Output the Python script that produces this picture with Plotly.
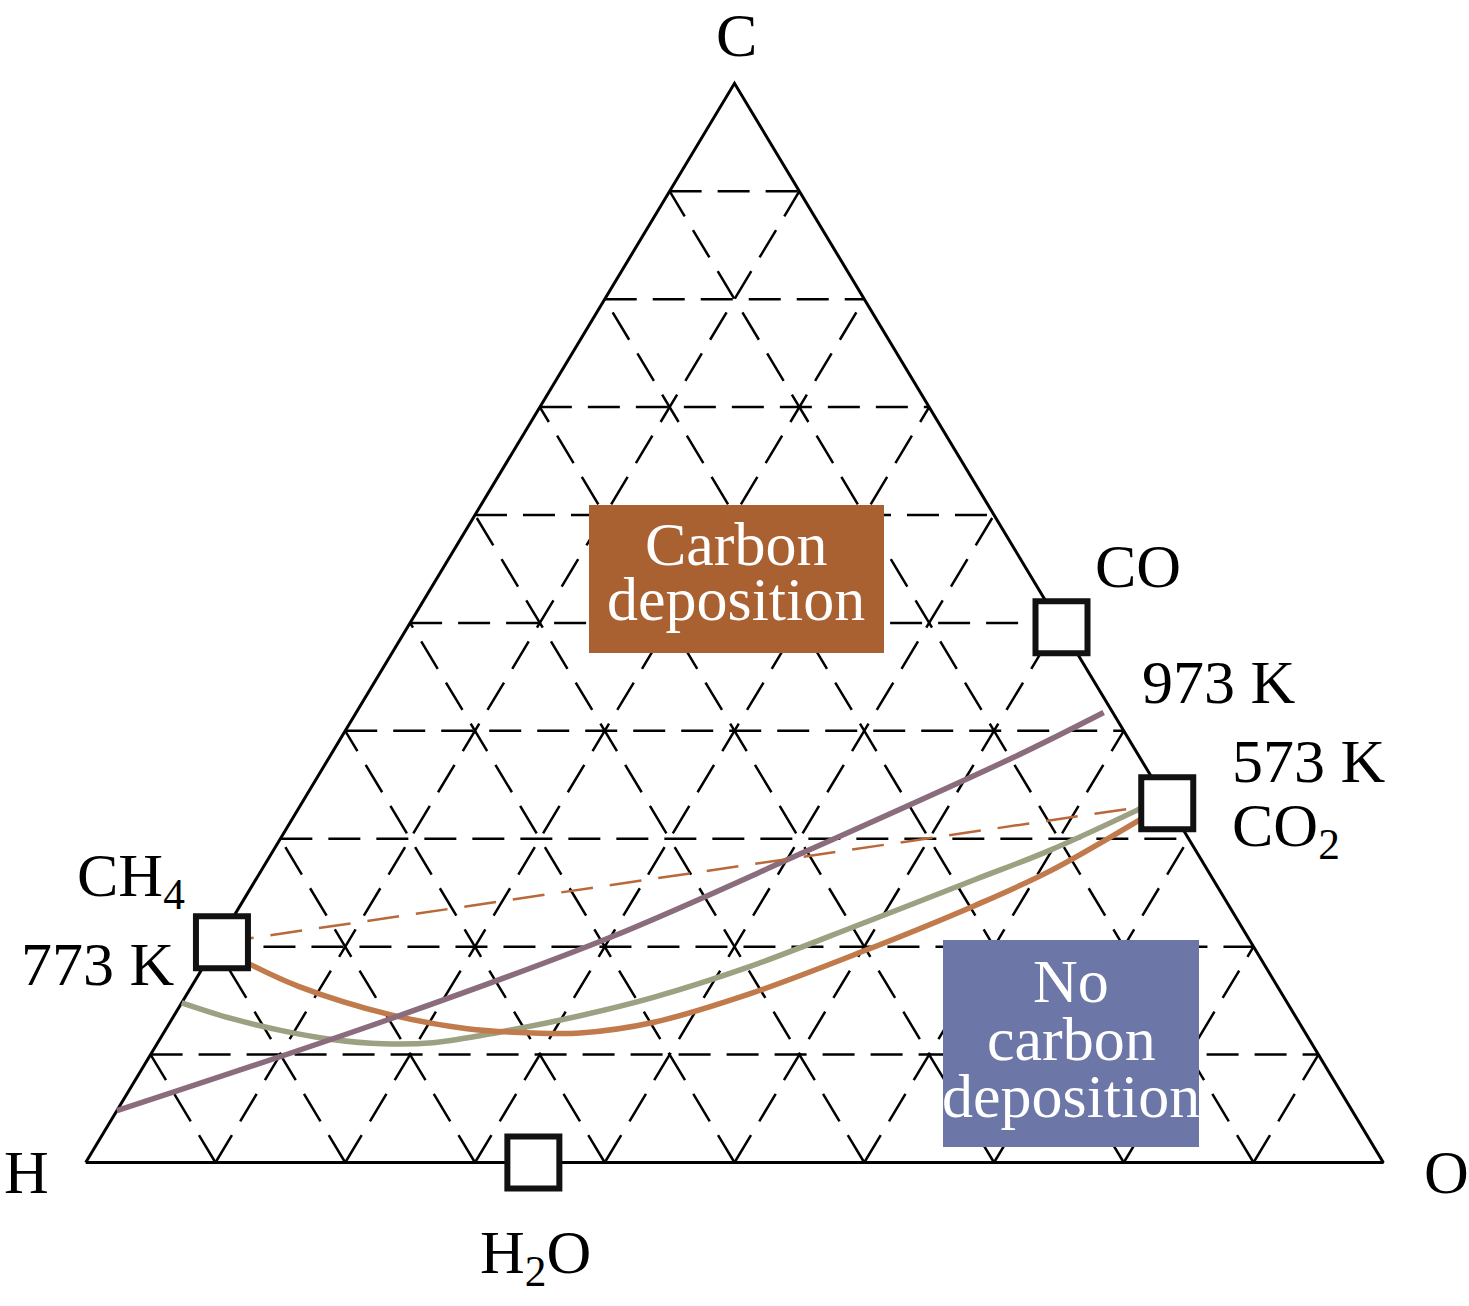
import plotly.graph_objects as go

# ---------------- data (mole fractions; H = 1 - C - O) ----------------
grid_levels = [0.1, 0.2, 0.3, 0.4, 0.5, 0.6, 0.7, 0.8, 0.9]

species_names = ["CH4", "CO", "CO2", "H2O"]
species_C = [0.204, 0.496, 0.333, 0.000]
species_O = [0.003, 0.504, 0.667, 0.345]

# 973 K carbon-deposition boundary
k973_C = [0.048, 0.133, 0.208, 0.289, 0.376, 0.417]
k973_O = [0.000, 0.168, 0.299, 0.412, 0.528, 0.576]

# 773 K carbon-deposition boundary
k773_C = [0.185, 0.163, 0.137, 0.124, 0.120, 0.120, 0.130, 0.156, 0.195, 0.238, 0.270, 0.318, 0.325]
k773_O = [0.032, 0.083, 0.166, 0.232, 0.285, 0.321, 0.373, 0.433, 0.500, 0.566, 0.608, 0.654, 0.660]

# 573 K carbon-deposition boundary
k573_C = [0.148, 0.133, 0.122, 0.114, 0.110, 0.111, 0.121, 0.136, 0.153, 0.181, 0.221, 0.262, 0.289, 0.328, 0.333]
k573_O = [0.000, 0.047, 0.091, 0.133, 0.174, 0.212, 0.259, 0.313, 0.361, 0.420, 0.487, 0.554, 0.598, 0.649, 0.655]


def proj(C, O):
    """ternary (C top, H left, O right) -> cartesian"""
    return [o + c / 2 for c, o in zip(C, O)], list(C)


W, H = 1469, 1306
FONT = "Liberation Serif, Times New Roman, serif"
fig = go.Figure()

# ---------------- dashed grid ----------------
grid_style = dict(color="black", width=2.5, dash="32px,16px")
for k in grid_levels:
    # constant C
    x, y = proj([k, k], [0, 1 - k])
    fig.add_trace(go.Scatter(x=x, y=y, mode="lines", line=grid_style, hoverinfo="skip"))
    # constant O
    x, y = proj([0, 1 - k], [k, k])
    fig.add_trace(go.Scatter(x=x, y=y, mode="lines", line=grid_style, hoverinfo="skip"))
    # constant H
    x, y = proj([0, 1 - k], [1 - k, 0])
    fig.add_trace(go.Scatter(x=x, y=y, mode="lines", line=grid_style, hoverinfo="skip"))

# ---------------- triangle edges ----------------
x, y = proj([0, 0, 1, 0], [0, 1, 0, 0])
fig.add_trace(go.Scatter(x=x, y=y, mode="lines", line=dict(color="black", width=3), hoverinfo="skip"))

# ---------------- boundaries ----------------
x, y = proj(k573_C, k573_O)
fig.add_trace(go.Scatter(x=x, y=y, mode="lines", line=dict(color="#9DA182", width=5.5, shape="spline"), name="573 K"))
x, y = proj(k773_C, k773_O)
fig.add_trace(go.Scatter(x=x, y=y, mode="lines", line=dict(color="#C07A4C", width=5.5, shape="spline"), name="773 K"))
x, y = proj(k973_C, k973_O)
fig.add_trace(go.Scatter(x=x, y=y, mode="lines", line=dict(color="#8A6C7D", width=5.5, shape="spline"), name="973 K"))
# CH4 - CO2 dashed line
x, y = proj([species_C[0], species_C[2]], [species_O[0], species_O[2]])
fig.add_trace(go.Scatter(x=x, y=y, mode="lines", line=dict(color="#B8693A", width=2.5, dash="32px,17px"), hoverinfo="skip"))

# ---------------- species squares ----------------
x, y = proj(species_C, species_O)
fig.add_trace(go.Scatter(x=x, y=y, mode="markers", text=species_names,
                         marker=dict(symbol="square", size=52, color="white",
                                     line=dict(color="#111111", width=6))))

# ---------------- region boxes ----------------
def px(xp):
    return xp / W


def py(yp):
    return 1 - yp / H


fig.add_shape(type="rect", xref="paper", yref="paper", layer="above",
              x0=px(589), x1=px(884), y0=py(653), y1=py(505),
              fillcolor="#AA6132", line=dict(width=0))
fig.add_shape(type="rect", xref="paper", yref="paper", layer="above",
              x0=px(943), x1=px(1199), y0=py(1147), y1=py(940),
              fillcolor="#6D77A7", line=dict(width=0))

labels = [
    ("C", 736, 35, "center", "black"),
    ("H", 27, 1172, "center", "black"),
    ("O", 1446, 1172, "center", "black"),
    ("H<sub>2</sub>O", 478, 1256, "left", "black"),
    ("CH<sub>4</sub>", 75, 879, "left", "black"),
    ("773 K", 177, 964, "right", "black"),
    ("CO", 1093, 566, "left", "black"),
    ("973 K", 1140, 682, "left", "black"),
    ("573 K", 1230, 761, "left", "black"),
    ("CO<sub>2</sub>", 1230, 829, "left", "black"),
    ("Carbon", 736, 544, "center", "white"),
    ("deposition", 736, 599, "center", "white"),
    ("No", 1071, 981, "center", "white"),
    ("carbon", 1071, 1039, "center", "white"),
    ("deposition", 1071, 1096, "center", "white"),
]
for t, lx, ly, anc, col in labels:
    fig.add_annotation(text=t, xref="paper", yref="paper", x=px(lx), y=py(ly),
                       xanchor=anc, yanchor="middle", showarrow=False,
                       font=dict(family=FONT, size=62, color=col))

# ---------------- axes mapping ----------------
x_scale = 1297.6
y_scale = 1079.2
x0 = -85.7 / x_scale
y1 = 1 + 83.3 / y_scale
fig.update_layout(
    width=W, height=H, margin=dict(l=0, r=0, t=0, b=0),
    paper_bgcolor="white", plot_bgcolor="white", showlegend=False,
    xaxis=dict(visible=False, range=[x0, x0 + W / x_scale], fixedrange=True),
    yaxis=dict(visible=False, range=[y1 - H / y_scale, y1], fixedrange=True),
)

fig.write_html("out.html", config={"displayModeBar": False},
               post_script="document.body.style.margin='0';document.body.style.overflow='hidden';")
